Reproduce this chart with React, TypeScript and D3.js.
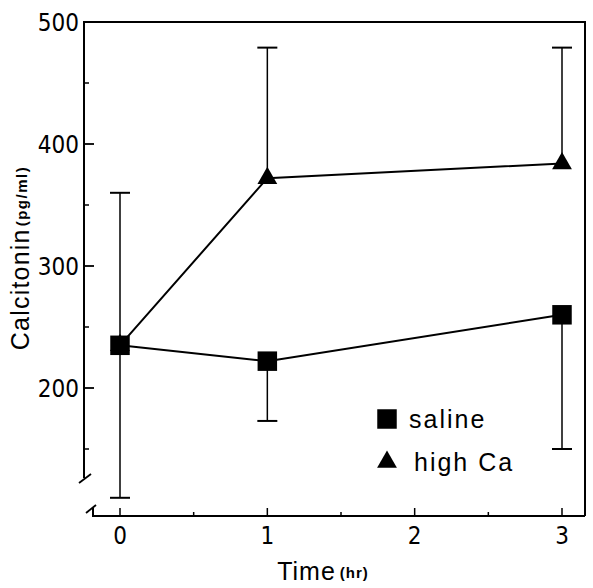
import React, { useRef, useEffect } from 'react';
import * as d3 from 'd3';

// data
const times = [0, 1, 3];
const salineMean = [235, 222, 260];
const salineLow = [110, 173, 150];
const highCaMean = [235, 372, 384];
const highCaHigh = [360, 479, 479];
const yTicks = [200, 300, 400, 500];
const yMinor = [150, 250, 350, 450];
const xTicks = [0, 1, 2, 3];
const xMinor = [0.5, 1.5, 2.5];

const W = 593;
const H = 588;

const App = () => {
  const svgRef = useRef<SVGSVGElement>(null);

  useEffect(() => {
    const svg = d3.select(svgRef.current);
    svg.selectAll('*').remove();

    const left = 84;
    const right = 585;
    const top = 22;
    const bottom = 516; // x axis line
    const yAxisEnd = 478; // where the broken y axis stops

    const x = d3.scaleLinear().domain([0, 3]).range([120, 562]);
    const y = d3.scaleLinear().domain([200, 500]).range([388, top]);

    const ink = '#000';

    // frame: left axis (broken), top, right
    svg.append('path')
      .attr('d', `M${left},${yAxisEnd} L${left},${top} L${right},${top} L${right},${bottom}`)
      .attr('fill', 'none').attr('stroke', ink).attr('stroke-width', 2);
    // break mark on y axis
    svg.append('line')
      .attr('x1', left - 5).attr('y1', yAxisEnd + 5)
      .attr('x2', left + 7).attr('y2', yAxisEnd - 4)
      .attr('stroke', ink).attr('stroke-width', 1.8);

    // x axis with break
    const xStart = 93;
    svg.append('path')
      .attr('d', `M${xStart},${bottom - 8} L${xStart},${bottom} L${right},${bottom}`)
      .attr('fill', 'none').attr('stroke', ink).attr('stroke-width', 2);
    svg.append('line')
      .attr('x1', xStart - 7).attr('y1', bottom - 3)
      .attr('x2', xStart + 3).attr('y2', bottom - 11)
      .attr('stroke', ink).attr('stroke-width', 1.8);

    // y ticks
    svg.selectAll('.ytick').data(yTicks).enter().append('line')
      .attr('x1', left).attr('x2', left + 10)
      .attr('y1', d => y(d)).attr('y2', d => y(d))
      .attr('stroke', ink).attr('stroke-width', 1.8);
    svg.selectAll('.yminor').data(yMinor).enter().append('line')
      .attr('x1', left).attr('x2', left + 5)
      .attr('y1', d => y(d)).attr('y2', d => y(d))
      .attr('stroke', ink).attr('stroke-width', 1.5);
    svg.selectAll('.ylab').data(yTicks).enter().append('text')
      .attr('x', left - 5).attr('y', d => y(d) + 9)
      .attr('text-anchor', 'end')
      .style('font-family', '"DejaVu Sans Condensed", "DejaVu Sans"')
      .style('font-size', '24px')
      .text(d => d);

    // x ticks
    svg.selectAll('.xtick').data(xTicks).enter().append('line')
      .attr('x1', d => x(d)).attr('x2', d => x(d))
      .attr('y1', bottom).attr('y2', bottom - 8)
      .attr('stroke', ink).attr('stroke-width', 1.5);
    svg.selectAll('.xminor').data(xMinor).enter().append('line')
      .attr('x1', d => x(d)).attr('x2', d => x(d))
      .attr('y1', bottom).attr('y2', bottom - 4)
      .attr('stroke', ink).attr('stroke-width', 1.5);
    svg.selectAll('.xlab').data(xTicks).enter().append('text')
      .attr('x', d => x(d)).attr('y', bottom + 28)
      .attr('text-anchor', 'middle')
      .style('font-family', '"DejaVu Sans Condensed", "DejaVu Sans"')
      .style('font-size', '24px')
      .text(d => d);

    // axis titles
    const xt = svg.append('text')
      .attr('x', 323).attr('y', 580)
      .attr('text-anchor', 'middle')
      .style('font-family', '"Liberation Sans", Arial, sans-serif');
    xt.append('tspan').style('font-size', '25px').style('letter-spacing', '1px').text('Time');
    xt.append('tspan').style('font-size', '15px').style('font-weight', 'bold')
      .style('letter-spacing', '1px').attr('dx', 4).attr('dy', -2).text('(hr)');

    const yt = svg.append('text')
      .attr('transform', 'translate(29,258) rotate(-90)')
      .attr('text-anchor', 'middle')
      .style('font-family', '"Liberation Sans", Arial, sans-serif');
    yt.append('tspan').style('font-size', '25px').style('letter-spacing', '1.2px').text('Calcitonin');
    yt.append('tspan').style('font-size', '15px').style('font-weight', 'bold')
      .style('letter-spacing', '1.5px').attr('dx', 2).attr('dy', -2).text('(pg/ml)');

    // error bars
    const cap = 10;
    const bar = (xv: number, y1: number, y2: number) => {
      svg.append('line')
        .attr('x1', x(xv)).attr('x2', x(xv))
        .attr('y1', y(y1)).attr('y2', y(y2))
        .attr('stroke', ink).attr('stroke-width', 1.5);
      svg.append('line')
        .attr('x1', x(xv) - cap).attr('x2', x(xv) + cap)
        .attr('y1', y(y2)).attr('y2', y(y2))
        .attr('stroke', ink).attr('stroke-width', 2);
    };
    times.forEach((t, i) => {
      bar(t, highCaMean[i], highCaHigh[i]);
      bar(t, salineMean[i], salineLow[i]);
    });

    // lines
    const line = d3.line<number>()
      .x((_, i) => x(times[i]))
      .y(d => y(d));
    svg.append('path').attr('d', line(highCaMean))
      .attr('fill', 'none').attr('stroke', ink).attr('stroke-width', 2);
    svg.append('path').attr('d', line(salineMean))
      .attr('fill', 'none').attr('stroke', ink).attr('stroke-width', 2);

    // markers
    const tri = d3.symbol().type(d3.symbolTriangle).size(170);
    const sq = d3.symbol().type(d3.symbolSquare).size(380);
    svg.selectAll('.tri').data(highCaMean).enter().append('path')
      .attr('d', tri)
      .attr('transform', (d, i) => `translate(${x(times[i])},${y(d)})`)
      .attr('fill', ink);
    svg.selectAll('.sq').data(salineMean).enter().append('path')
      .attr('d', sq)
      .attr('transform', (d, i) => `translate(${x(times[i])},${y(d)})`)
      .attr('fill', ink);

    // legend
    const lg = svg.append('g').attr('transform', 'translate(387,0)');
    lg.append('path').attr('d', sq).attr('transform', 'translate(0,419)').attr('fill', ink);
    lg.append('path').attr('d', tri).attr('transform', 'translate(0,462)').attr('fill', ink);
    const legendText = ['saline', 'high Ca'];
    lg.selectAll('.lt').data(legendText).enter().append('text')
      .attr('x', (d, i) => (i === 0 ? 22 : 27))
      .attr('y', (d, i) => (i === 0 ? 428 : 471))
      .style('font-family', '"Liberation Sans", Arial, sans-serif')
      .style('font-size', '25px')
      .style('letter-spacing', '2px')
      .text(d => d);
  }, []);

  return (
    <svg
      ref={svgRef}
      width={W}
      height={H}
      style={{ position: 'absolute', left: 0, top: 0, background: '#fff' }}
    />
  );
};

export default App;
